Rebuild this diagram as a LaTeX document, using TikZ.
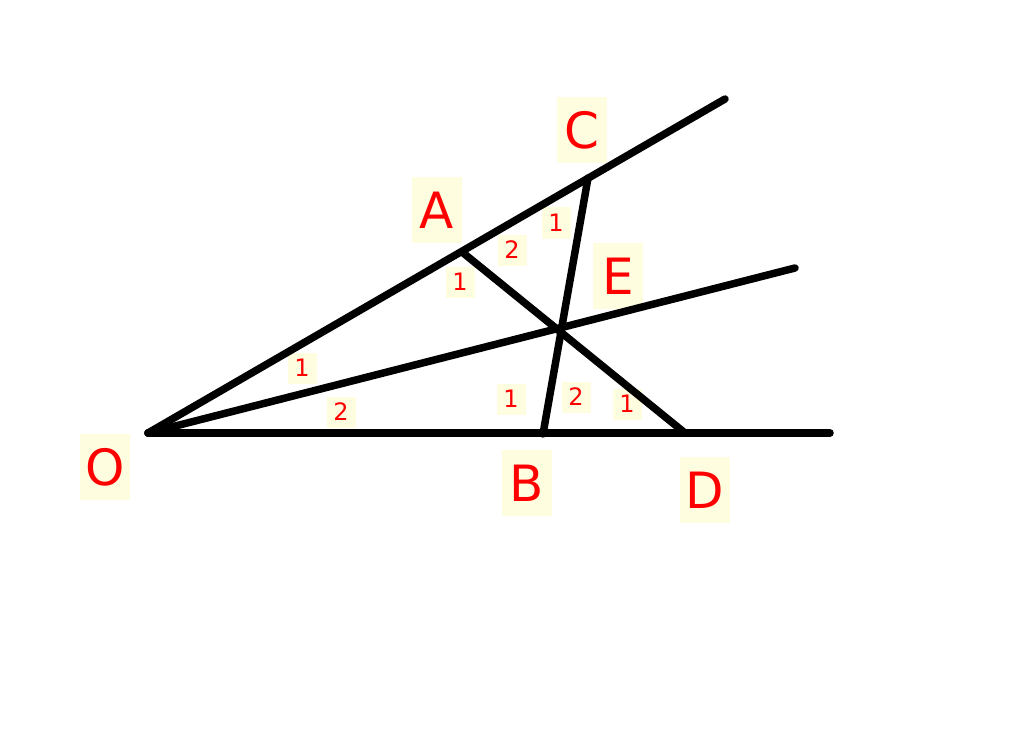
\documentclass[tikz,border=0pt]{standalone}
\usepackage{fontspec}
\setmainfont{DejaVu Sans}
\begin{document}
\begin{tikzpicture}[x=1pt,y=-1pt,
  seg/.style={line width=7.5pt,line cap=round,black},
  biglabel/.style={fill=yellow!12,text=red,font=\fontsize{50}{50}\selectfont,minimum width=50pt,minimum height=66pt,inner sep=0pt},
  smalllabel/.style={fill=yellow!12,text=red,font=\fontsize{24}{24}\selectfont,minimum width=29pt,minimum height=31pt,inner sep=0pt}]
\useasboundingbox (0,0) rectangle (1024,743);
\coordinate (O) at (148,433);
\coordinate (A) at (462,252);
\coordinate (C) at (588,178);
\coordinate (B) at (543,434);
\coordinate (D) at (685,433);
\coordinate (Eend) at (795,268);
\coordinate (Cend) at (725,99);
\coordinate (Dend) at (830,433);
\node[biglabel] (lO) at (105,467) {O};
\node[biglabel] (lB) at (527,483) {B};
\node[biglabel] (lD) at (705,490) {D};
\node[biglabel] (lC) at (582,130) {C};
\node[biglabel] (lA) at (437,210) {A};
\node[biglabel] (lE) at (618,276) {E};
\node[smalllabel] (s1) at (302,368) {1};
\node[smalllabel] (s2) at (341,412) {2};
\node[smalllabel] (s3) at (460,282) {1};
\node[smalllabel] (s4) at (512,250) {2};
\node[smalllabel] (s5) at (556,223) {1};
\node[smalllabel] (s6) at (511,399) {1};
\node[smalllabel] (s7) at (576,397) {2};
\node[smalllabel] (s8) at (627,404) {1};
\draw[seg] (O) -- (Dend);
\draw[seg] (O) -- (Cend);
\draw[seg] (O) -- (Eend);
\draw[seg] (A) -- (D);
\draw[seg] (C) -- (B);
\end{tikzpicture}
\end{document}
